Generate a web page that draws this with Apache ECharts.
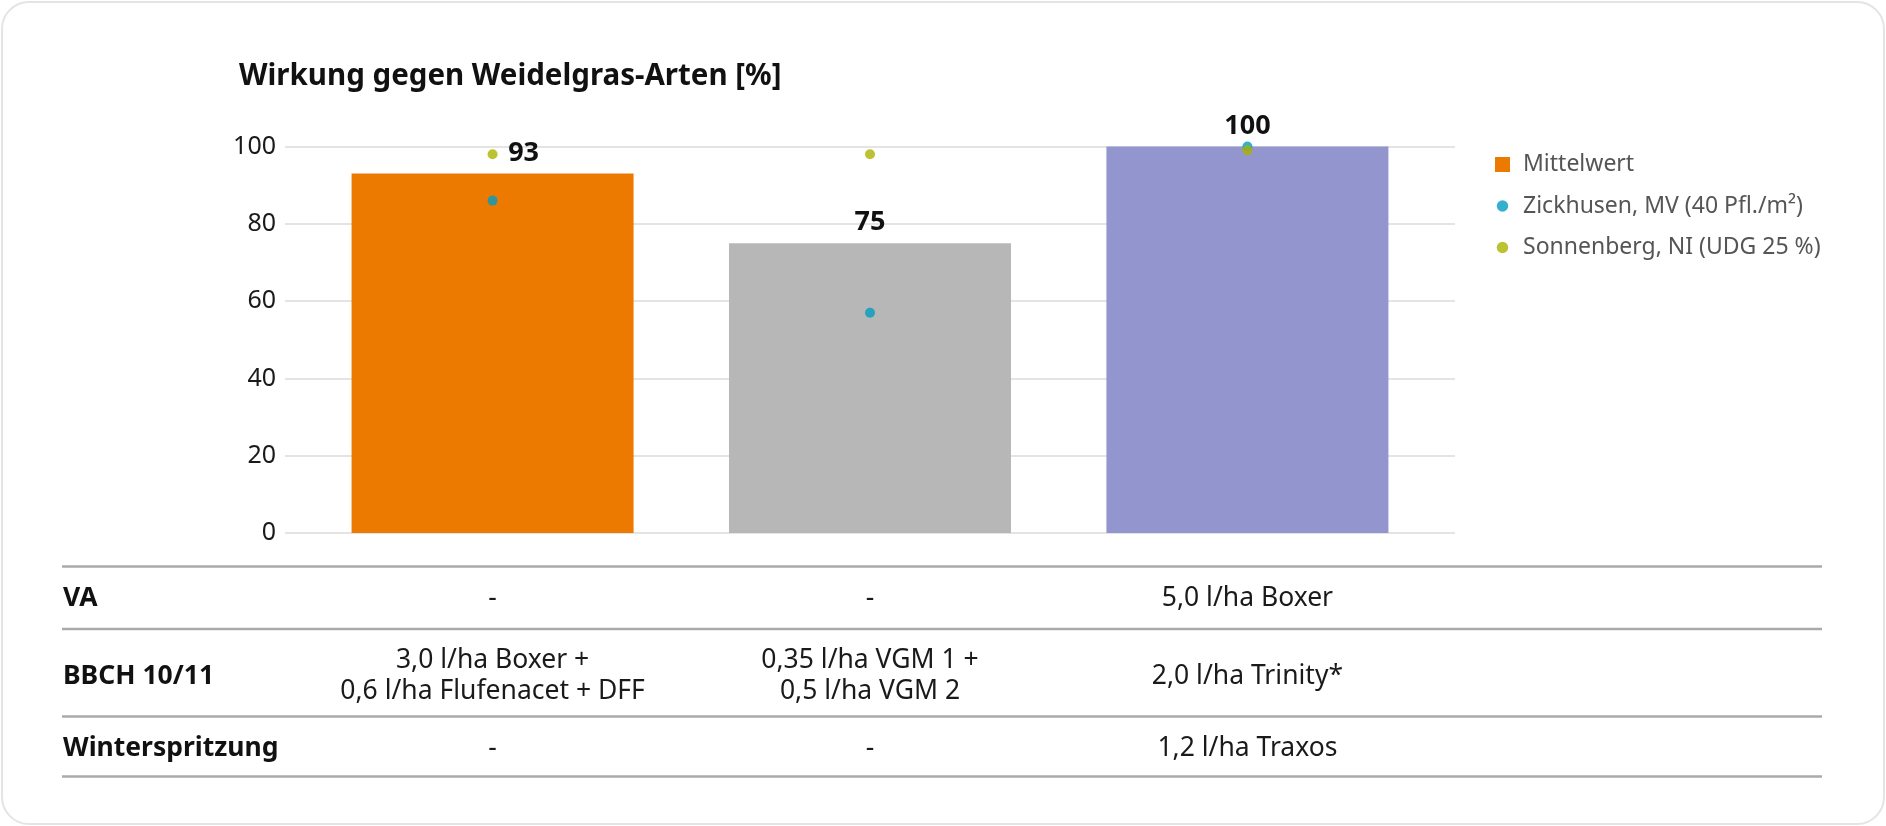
<!DOCTYPE html>
<html>
<head>
<meta charset="utf-8">
<script src="https://cdn.jsdelivr.net/npm/echarts@6/dist/echarts.min.js"></script>
<style>
html,body{margin:0;padding:0;background:#ffffff;}
#card{position:absolute;left:1px;top:1px;width:1880px;height:820px;border:2px solid #e4e4e4;border-radius:28px;background:#fff;}
#chart{position:absolute;left:0;top:0;width:1886px;height:826px;}
</style>
</head>
<body>
<div id="card"></div>
<div id="chart"></div>
<script>
const categories = ['Variante 1', 'Variante 2', 'Variante 3'];
const meanValues = [93, 75, 100];
const zickhusen = [86, 57, 100];
const sonnenberg = [98, 98, 99];
const barColors = ['#EC7A00', '#B7B7B7', '#9295CE'];
const yTicks = [0, 20, 40, 60, 80, 100];
const seriesNames = ['Mittelwert', 'Zickhusen, MV (40 Pfl./m²)', 'Sonnenberg, NI (UDG 25 %)'];
const rowLabels = ['VA', 'BBCH 10/11', 'Winterspritzung'];
const rowVA = ['-', '-', '5,0 l/ha Boxer'];
const rowBBCH = ['3,0 l/ha Boxer +\n0,6 l/ha Flufenacet + DFF', '0,35 l/ha VGM 1 +\n0,5 l/ha VGM 2', '2,0 l/ha Trinity*'];
const rowWinter = ['-', '-', '1,2 l/ha Traxos'];

const FONT = '"Noto Sans", "Open Sans", sans-serif';
const chart = echarts.init(document.getElementById('chart'), null, {renderer: 'canvas'});

const circleIcon = 'path://M0,0h0M15,15h0M13.25,7.5a5.75,5.75 0 1,1 -11.5,0a5.75,5.75 0 1,1 11.5,0z';

const option = {
  animation: false,
  backgroundColor: 'transparent',
  textStyle: {fontFamily: FONT},
  title: {
    text: 'Wirkung gegen Weidelgras-Arten [%]',
    left: 234, top: 57,
    textStyle: {fontFamily: FONT, fontSize: 29.5, fontWeight: 'bold', color: '#111'}
  },
  legend: {
    orient: 'vertical',
    left: 1490, top: 148,
    itemWidth: 15, itemHeight: 15,
    itemGap: 18.5,
    textStyle: {fontFamily: FONT, fontSize: 23, color: '#555', padding: [0, 0, 0, 8]},
    data: [
      {name: seriesNames[0], icon: 'rect'},
      {name: seriesNames[1], icon: circleIcon},
      {name: seriesNames[2], icon: circleIcon}
    ]
  },
  grid: {left: 285, width: 1170, top: 146.5, height: 386.5},
  xAxis: {
    type: 'value', min: -0.55, max: 2.55,
    axisLine: {show: false}, axisTick: {show: false},
    axisLabel: {show: false}, splitLine: {show: false}
  },
  yAxis: {
    type: 'value', min: yTicks[0], max: yTicks[yTicks.length - 1], interval: 20,
    axisLine: {show: false}, axisTick: {show: false},
    axisLabel: {fontFamily: FONT, fontSize: 25, color: '#1a1a1a', margin: 9},
    splitLine: {lineStyle: {color: '#e4e4e4', width: 2}}
  },
  series: [
    {
      name: seriesNames[0], type: 'bar', barWidth: 282,
      itemStyle: {color: barColors[0]},
      label: {show: true, position: 'top', distance: 7,
        fontFamily: FONT, fontSize: 27, fontWeight: 'bold', color: '#111'},
      data: meanValues.map((v, i) => ({
        value: [i, v],
        itemStyle: {color: barColors[i]},
        label: i === 0 ? {offset: [31, 0], formatter: String(v)} : {formatter: String(v)}
      })),
      z: 2
    },
    {
      name: seriesNames[1], type: 'scatter', symbol: 'circle', symbolSize: 10,
      itemStyle: {color: '#039CBF'},
      data: zickhusen.map((v, i) => [i, v]), z: 3
    },
    {
      name: seriesNames[2], type: 'scatter', symbol: 'circle', symbolSize: 10,
      itemStyle: {color: '#ADB300'},
      data: sonnenberg.map((v, i) => [i, v]), z: 4
    }
  ]
};
chart.setOption(option);

// table below the chart
const colX = categories.map((c, i) => chart.convertToPixel({xAxisIndex: 0}, i));
const lineYs = [566.5, 629, 716.5, 776.5];
const rowYs = [598, 676, 748];
const rows = [rowVA, rowBBCH, rowWinter];
const g = [];
lineYs.forEach(y => g.push({type: 'line', shape: {x1: 62, y1: y, x2: 1822, y2: y},
  style: {stroke: '#aaaaaa', lineWidth: 2.5}, silent: true}));
rowLabels.forEach((t, r) => g.push({type: 'text', x: 63, y: rowYs[r],
  style: {text: t, font: 'bold 26.5px ' + FONT, fill: '#111', align: 'left', verticalAlign: 'middle'}}));
rows.forEach((row, r) => row.forEach((t, c) => g.push({type: 'text', x: colX[c], y: rowYs[r],
  style: {text: t, font: '26.5px ' + FONT, fill: '#1a1a1a', align: 'center', verticalAlign: 'middle', lineHeight: 31}})));
chart.setOption({graphic: g});
</script>
</body>
</html>
